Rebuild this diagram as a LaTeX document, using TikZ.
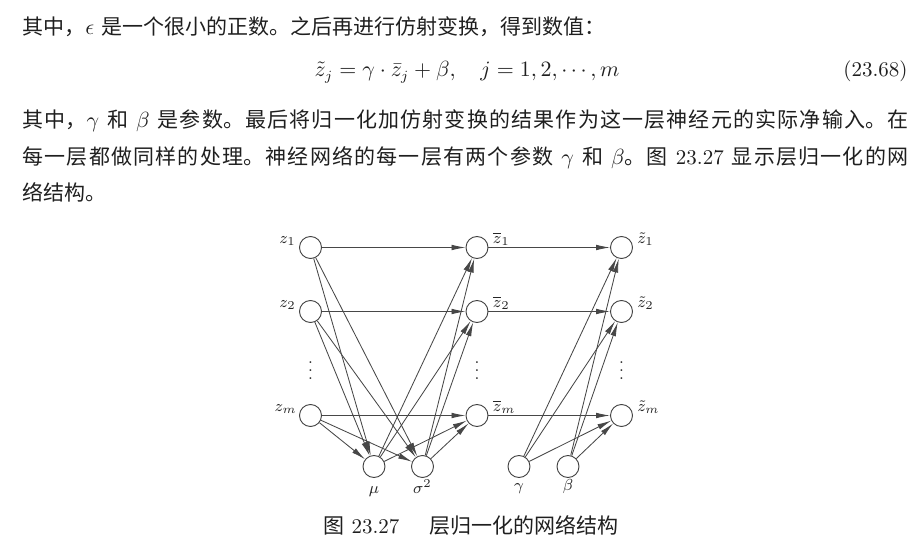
\documentclass[tikz,border=0pt]{standalone}
\usepackage{fontspec}
\newfontfamily\cjk{Noto Sans CJK SC}
\usetikzlibrary{arrows.meta}
\XeTeXlinebreaklocale "zh"
\XeTeXlinebreakskip=0pt plus 2pt
\newcommand\zh[1]{{\cjk #1}}
\newcommand\jline[1]{\parbox[b]{443pt}{\parfillskip=0pt #1}}
\tikzset{
  txt/.style={font=\fontsize{10.5}{18}\selectfont, inner sep=0pt, text=black!88},
  neuron/.style={circle, draw=black!75, line width=0.45pt, minimum size=11pt, inner sep=0pt},
  lab/.style={font=\fontsize{8.5}{9}\selectfont, inner sep=0pt, text=black!85},
  conn/.style={draw=black!72, line width=0.42pt, -{Latex[length=7pt,width=2.8pt]}},
}
\begin{document}
\begin{tikzpicture}[x=0.5pt,y=-0.5pt]
\useasboundingbox (0,0) rectangle (922,551);
% ---- text ----
\node[txt, anchor=base west] (l1) at (22,35) {\zh{其中，}$\epsilon$ \zh{是一个很小的正数。之后再进行仿射变换，得到数值：}};
\node[txt, anchor=base] (eq) at (467,77) {$\tilde{z}_j = \gamma \cdot \bar{z}_j + \beta, \quad j = 1, 2, \cdots, m$};
\node[txt, anchor=base east] (eqno) at (908,77) {(23.68)};
\node[txt, anchor=base west] (l3) at (22,128) {\jline{\zh{其中，}$\gamma$ \zh{和} $\beta$ \zh{是参数。最后将归一化加仿射变换的结果作为这一层神经元的实际净输入。在}}};
\node[txt, anchor=base west] (l4) at (22,165) {\jline{\zh{每一层都做同样的处理。神经网络的每一层有两个参数} $\gamma$ \zh{和} $\beta$\zh{。图} 23.27 \zh{显示层归一化的网}}};
\node[txt, anchor=base west] (l5) at (22,200) {\zh{络结构。}};
\node[txt, anchor=base] (cap) at (471,533) {\zh{图} 23.27\hspace{15pt}\zh{层归一化的网络结构}};
% ---- neurons ----
\node[neuron] (z1) at (310.5,247.5) {};
\node[neuron] (z2) at (310.5,311.5) {};
\node[neuron] (zm) at (310.5,415.5) {};
\node[neuron] (b1) at (477,247.5) {};
\node[neuron] (b2) at (477,311.5) {};
\node[neuron] (bm) at (477,415.5) {};
\node[neuron] (t1) at (621.5,247.5) {};
\node[neuron] (t2) at (621.5,311.5) {};
\node[neuron] (tm) at (621.5,415.5) {};
\node[neuron] (mu) at (374,466.5) {};
\node[neuron] (sg) at (422.5,466.5) {};
\node[neuron] (ga) at (519,466.5) {};
\node[neuron] (be) at (568,466.5) {};
% dots
\node[lab] (d1) at (310.5,365) {$\vdots$};
\node[lab] (d2) at (477,365) {$\vdots$};
\node[lab] (d3) at (621.5,365) {$\vdots$};
% labels
\node[lab, anchor=base east] (lz1) at ([xshift=-1.5pt,yshift=2pt]z1.west) {$z_1$};
\node[lab, anchor=base east] (lz2) at ([xshift=-1.5pt,yshift=2pt]z2.west) {$z_2$};
\node[lab, anchor=base east] (lzm) at ([xshift=-1pt,yshift=2pt]zm.west) {$z_m$};
\node[lab, anchor=base west] (lb1) at ([xshift=2pt,yshift=2pt]b1.east) {$\overline{z}_1$};
\node[lab, anchor=base west] (lb2) at ([xshift=2pt,yshift=2pt]b2.east) {$\overline{z}_2$};
\node[lab, anchor=base west] (lbm) at ([xshift=2pt,yshift=2pt]bm.east) {$\overline{z}_m$};
\node[lab, anchor=base west] (lt1) at ([xshift=2pt,yshift=2pt]t1.east) {$\tilde{z}_1$};
\node[lab, anchor=base west] (lt2) at ([xshift=2pt,yshift=2pt]t2.east) {$\tilde{z}_2$};
\node[lab, anchor=base west] (ltm) at ([xshift=2pt,yshift=2pt]tm.east) {$\tilde{z}_m$};
\node[lab, anchor=base] (lmu) at ([yshift=-13.25pt]mu.center) {$\mu$};
\node[lab, anchor=base] (lsg) at ([yshift=-13.25pt]sg.center) {$\sigma^2$};
\node[lab, anchor=base] (lga) at ([yshift=-12pt]ga.center) {$\gamma$};
\node[lab, anchor=base] (lbe) at ([yshift=-12pt]be.center) {$\beta$};
% ---- connectors ----
\foreach \a in {z1,z2,zm} {
  \draw[conn] (\a) -- (mu);
  \draw[conn] (\a) -- (sg);
}
\foreach \a/\b in {z1/b1,z2/b2,zm/bm,b1/t1,b2/t2,bm/tm}
  \draw[conn] (\a) -- (\b);
\foreach \b in {b1,b2,bm} {
  \draw[conn] (mu) -- (\b);
  \draw[conn] (sg) -- (\b);
}
\foreach \b in {t1,t2,tm} {
  \draw[conn] (ga) -- (\b);
  \draw[conn] (be) -- (\b);
}
\end{tikzpicture}
\end{document}
